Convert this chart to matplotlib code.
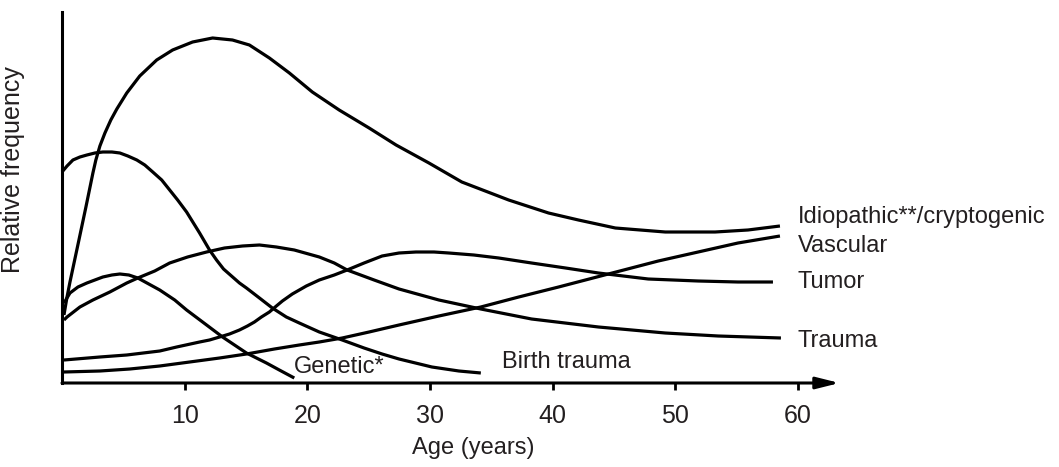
import matplotlib
matplotlib.use('Agg')
import matplotlib.pyplot as plt

plt.rcParams['font.family'] = ['Liberation Sans', 'DejaVu Sans']

# curves: age (years) vs relative frequency (arbitrary units)
idio_age = [0.16, 0.41, 0.65, 1.38, 1.95, 2.52, 2.76, 3.09, 3.50, 3.98, 4.47, 5.28, 6.34,
            7.72, 9.02, 10.65, 12.28, 13.90, 15.28, 16.91, 18.54, 20.41, 22.60, 25.04,
            27.24, 29.92, 32.60, 36.42, 39.67, 42.11, 45.12, 49.19, 53.25, 55.93, 58.54]
idio_val = [68, 86, 101, 143, 176, 210, 223, 237, 250, 263, 274, 290, 307,
            323, 333, 341, 345, 343, 338, 325, 310, 291, 273, 255,
            238, 220, 201, 183, 170, 163, 155, 151, 151, 153, 157]

genetic_age = [0.16, 0.65, 1.30, 2.03, 3.33, 4.07, 4.72, 5.45, 6.18, 7.97, 9.19, 10.16,
               11.79, 13.09, 15.04, 16.67, 17.72, 18.94]
genetic_val = [80, 90, 96, 100, 106, 108, 109, 108, 105, 93, 83, 73,
               58, 46, 30, 20, 13, 5]

birth_age = [0.0, 0.41, 0.89, 1.46, 2.03, 2.68, 3.33, 4.07, 4.72, 5.37, 6.10, 6.75, 7.40,
             8.13, 8.78, 9.43, 10.16, 11.22, 12.03, 12.60, 13.17, 13.82, 14.47, 15.04,
             16.10, 17.15, 18.29, 19.35, 20.98, 22.85, 24.63, 26.10, 27.48, 30.16, 32.36,
             34.15]
birth_val = [211, 217, 223, 226, 228, 230, 231, 231, 230, 227, 223, 218, 211,
             203, 193, 183, 171, 150, 133, 123, 114, 107, 100, 95,
             85, 75, 66, 60, 51, 43, 35, 29, 24, 16, 12,
             10]

tumor_age = [0.16, 3.09, 5.28, 7.97, 9.35, 11.22, 12.03, 12.85, 13.66, 14.47, 15.12, 15.69,
             16.26, 16.91, 17.48, 17.97, 18.78, 19.92, 20.98, 22.20, 23.25, 24.63, 26.10,
             27.48, 28.86, 30.33, 31.54, 33.58, 35.61, 38.29, 41.06, 43.74, 47.80, 51.87,
             55.12, 57.97]
tumor_val = [23, 26, 28, 32, 36, 41, 43, 46, 49, 53, 57, 61,
             66, 71, 77, 82, 89, 97, 103, 108, 113, 120, 127,
             130, 131, 131, 130, 128, 125, 120, 115, 110, 104, 102,
             101, 101]

trauma_age = [0.16, 0.41, 1.46, 2.52, 3.90, 5.28, 6.18, 7.56, 8.78, 10.24, 11.79, 13.25,
              14.72, 16.10, 17.48, 18.94, 20.98, 22.20, 23.25, 25.45, 27.48, 30.73, 34.15,
              38.29, 43.74, 49.19, 53.50, 58.62]
trauma_val = [63, 66, 76, 83, 91, 100, 105, 112, 120, 126, 131, 135,
              137, 138, 136, 133, 126, 120, 113, 103, 94, 83, 74,
              64, 56, 50, 47, 45]

vasc_age = [0.16, 3.09, 5.53, 7.97, 10.41, 12.85, 15.04, 17.32, 19.35, 20.98, 22.85, 25.04,
            27.48, 30.73, 34.15, 37.24, 40.49, 44.55, 48.62, 51.87, 55.12, 58.54]
vasc_val = [11, 12, 14, 17, 21, 25, 29, 34, 38, 41, 45, 51,
            58, 67, 76, 86, 96, 109, 122, 131, 140, 147]

TXT = '#231f20'

fig = plt.figure(figsize=(10.59, 4.67), dpi=100)
ax = fig.add_axes([62 / 1059, 84 / 467, 780 / 1059, 371 / 467])
ax.set_xlim(0, 63.6)
ax.set_ylim(0, 371)

for a, v in [(idio_age, idio_val), (genetic_age, genetic_val), (birth_age, birth_val),
             (tumor_age, tumor_val), (trauma_age, trauma_val), (vasc_age, vasc_val)]:
    ax.plot(a, v, color='black', lw=2.3, solid_joinstyle='round', solid_capstyle='butt',
            clip_on=False)

for s in ['top', 'right', 'bottom']:
    ax.spines[s].set_visible(False)
ax.spines['left'].set_linewidth(2.2)

# x axis drawn as an arrow
ax.annotate('', xy=(63.4, 0), xytext=(0, 0),
            arrowprops=dict(arrowstyle='-|>,head_length=1.4,head_width=0.35',
                            lw=2.2, color='black', shrinkA=0, shrinkB=0))

ax.set_xticks([10, 20, 30, 40, 50, 60])
ax.set_yticks([])
ax.tick_params(axis='x', direction='out', length=5, width=2, pad=10,
               labelsize=18, labelcolor=TXT)

ax.set_xlabel('Age (years)', fontsize=17, color=TXT)
ax.xaxis.set_label_coords(0.5276, -0.145)
ax.set_ylabel('Relative frequency', fontsize=18, color=TXT)
ax.yaxis.set_label_coords(-0.047, 0.574)

labels = [('Idiopathic**/cryptogenic', 60.0, 160), ('Vascular', 60.0, 131),
          ('Tumor', 60.0, 95), ('Trauma', 60.0, 36),
          ('Genetic*', 18.9, 10), ('Birth trauma', 35.9, 15)]
for t, x, y in labels:
    ax.text(x, y, t, fontsize=17, color=TXT, va='baseline', ha='left', clip_on=False)

fig.savefig('out.png', dpi=100)
